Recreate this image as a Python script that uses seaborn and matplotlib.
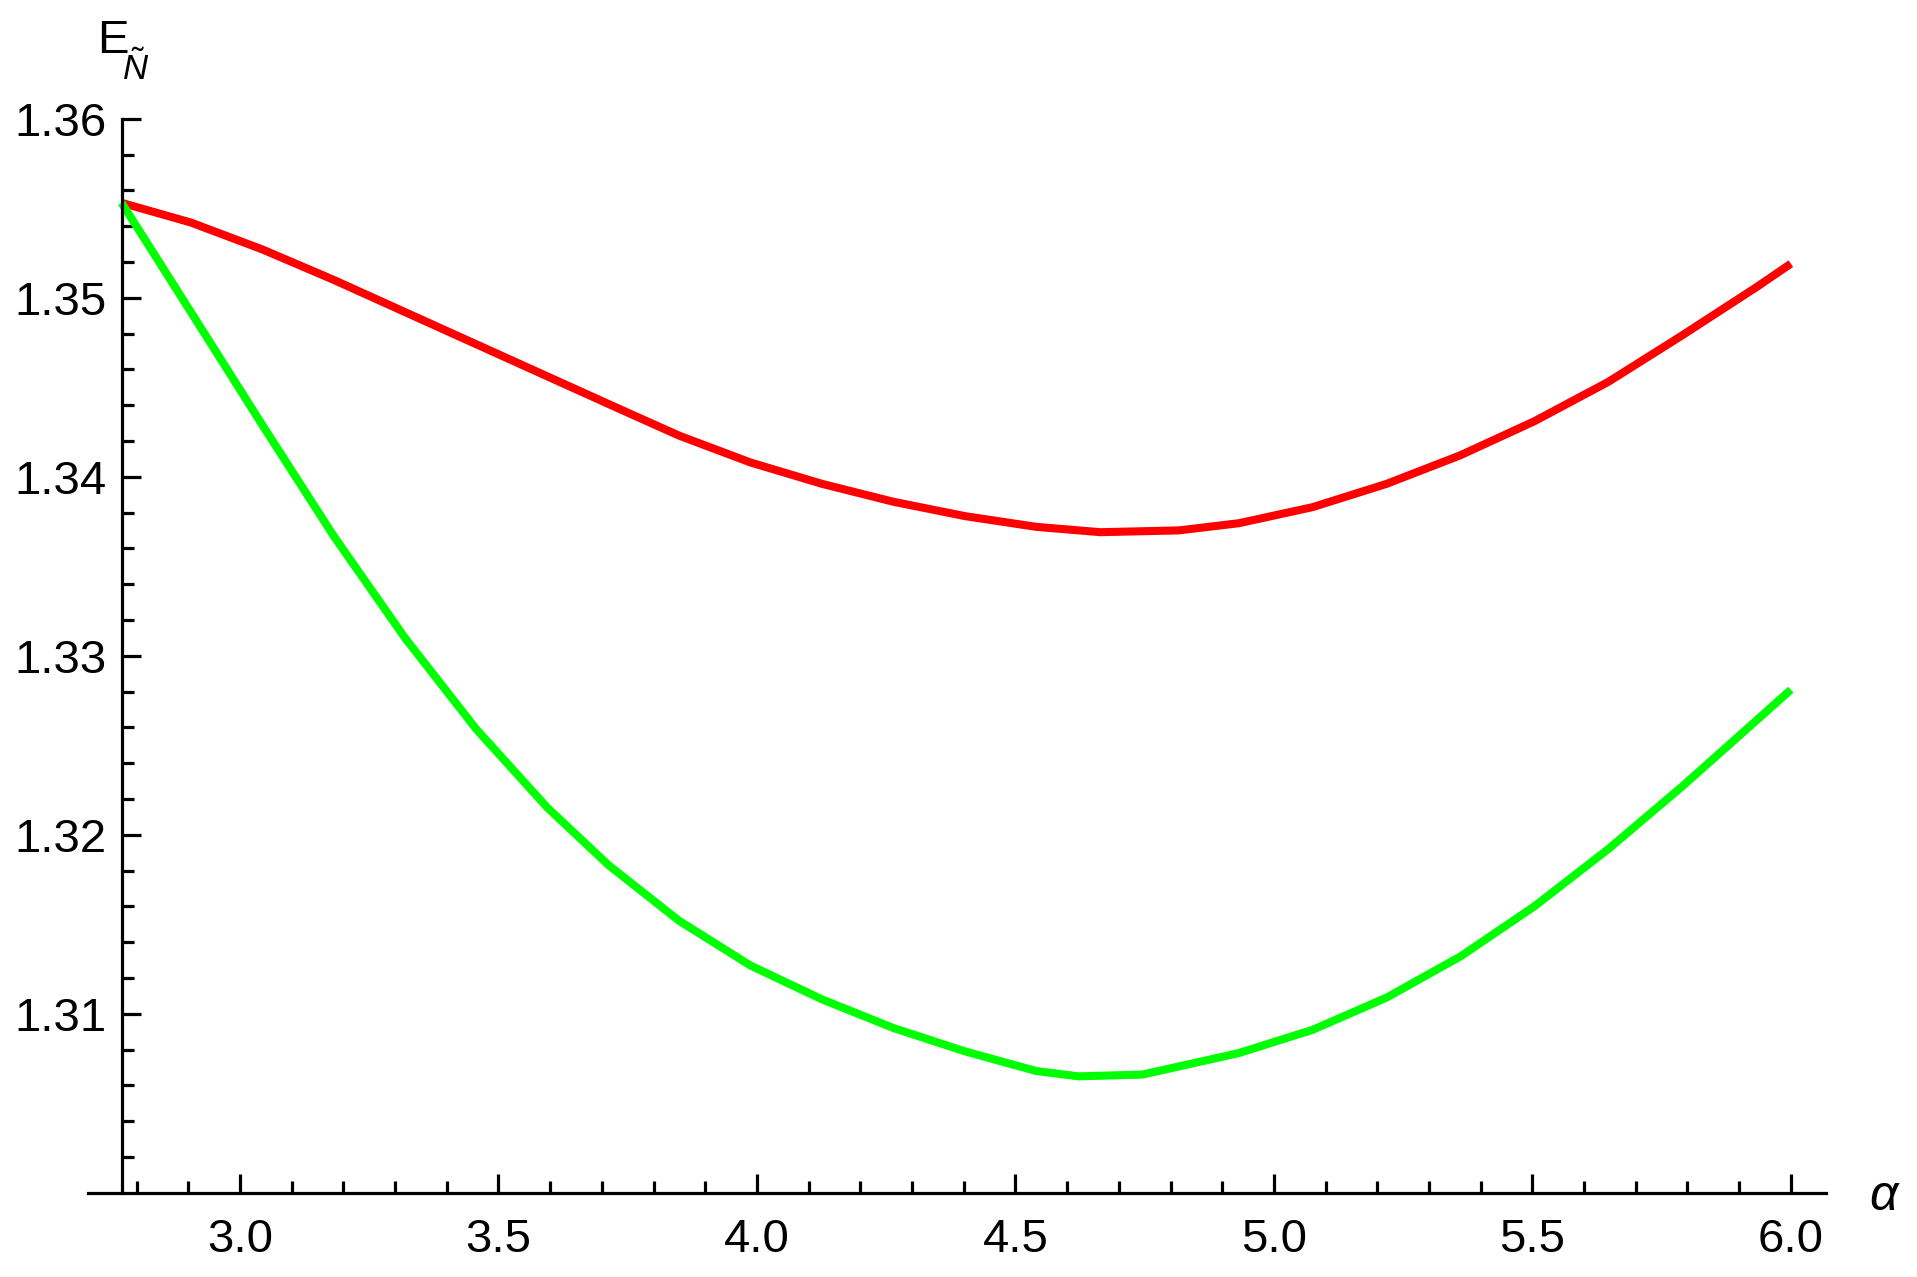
import numpy as np
import matplotlib
matplotlib.use("Agg")
import matplotlib.pyplot as plt
import seaborn as sns

# values
alpha_red = [2.771, 2.905, 3.043, 3.181, 3.319, 3.457, 3.595, 3.733, 3.849, 3.987,
             4.126, 4.264, 4.402, 4.540, 4.664, 4.816, 4.932, 5.075, 5.218, 5.361,
             5.504, 5.647, 5.790, 5.934, 6.000]
e_red = [1.3553, 1.3542, 1.3527, 1.3510, 1.3492, 1.3474, 1.3456, 1.3438, 1.3423, 1.3408,
         1.3396, 1.3386, 1.3378, 1.3372, 1.3369, 1.3370, 1.3374, 1.3383, 1.3396, 1.3412,
         1.3431, 1.3453, 1.3479, 1.3506, 1.3519]

alpha_green = [2.771, 2.905, 3.043, 3.181, 3.319, 3.457, 3.595, 3.713, 3.849, 3.987,
               4.126, 4.264, 4.402, 4.540, 4.622, 4.746, 4.932, 5.075, 5.218, 5.361,
               5.504, 5.647, 5.790, 5.934, 6.000]
e_green = [1.3553, 1.3492, 1.3429, 1.3367, 1.3310, 1.3259, 1.3215, 1.3183, 1.3152, 1.3127,
           1.3108, 1.3092, 1.3079, 1.3068, 1.3065, 1.3066, 1.3078, 1.3091, 1.3109, 1.3132,
           1.3160, 1.3192, 1.3227, 1.3264, 1.3281]

x_major = [3.0, 3.5, 4.0, 4.5, 5.0, 5.5, 6.0]
y_major = [1.31, 1.32, 1.33, 1.34, 1.35, 1.36]

sns.set_style("ticks")
plt.rcParams['font.family'] = ['Liberation Sans', 'DejaVu Sans']
plt.rcParams['mathtext.fontset'] = 'custom'
plt.rcParams['mathtext.rm'] = 'Liberation Sans'
plt.rcParams['mathtext.it'] = 'Liberation Sans:italic'
plt.rcParams['text.color'] = 'black'

fig = plt.figure(figsize=(19.17, 12.77), dpi=100)
ax = fig.add_axes([88 / 1917, 1 - 1192.7 / 1277, (1826 - 88) / 1917, (1192.7 - 118.7) / 1277])

sns.lineplot(x=alpha_red, y=e_red, color='#ff0000', lw=5.8, sort=False, estimator=None,
             ax=ax, clip_on=False, solid_joinstyle='round', solid_capstyle='butt')
sns.lineplot(x=alpha_green, y=e_green, color='#00ff00', lw=5.8, sort=False, estimator=None,
             ax=ax, clip_on=False, solid_joinstyle='round', solid_capstyle='butt')

ax.set_xlim(2.706, 6.068)
ax.set_ylim(1.300, 1.360)

for s in ['top', 'right']:
    ax.spines[s].set_visible(False)
ax.spines['left'].set_position(('data', 2.771))
ax.spines['left'].set_bounds(1.30, 1.36)
for s in ['left', 'bottom']:
    ax.spines[s].set_linewidth(2.3)
    ax.spines[s].set_color('black')

ax.set_xticks(x_major)
ax.set_xticklabels([f"{v:.1f}" for v in x_major])
ax.set_xticks([v for v in np.round(np.arange(2.8, 6.0, 0.1), 2) if round(v * 2, 6) % 1 != 0], minor=True)
ax.set_yticks(y_major)
ax.set_yticklabels([f"{v:.2f}" for v in y_major])
ax.set_yticks([v for v in np.round(np.arange(1.302, 1.36, 0.002), 3) if round(v * 100, 6) % 1 != 0], minor=True)

ax.tick_params(which='both', direction='in', width=2.3, color='black', labelcolor='black', labelsize=34)
ax.tick_params(which='major', length=14)
ax.tick_params(which='minor', length=8.6)
ax.tick_params(axis='x', which='major', pad=18)
ax.tick_params(axis='y', which='major', pad=11)

ax.set_xlabel('')
ax.set_ylabel('')
# axis labels in Mathematica style: E with subscript N-tilde at the top, alpha at the right
fig.text(97 / 1917, 1 - 53 / 1277, 'E', fontsize=34, color='black', ha='left', va='baseline')
fig.text(122 / 1917, 1 - 80 / 1277, r'$\tilde{N}$', fontsize=25, color='black', ha='left', va='baseline')
fig.text(1885 / 1917, 1 - 1197 / 1277, r'$\alpha$', fontsize=36, color='black', ha='center', va='center')

fig.savefig('out.png', dpi=100, facecolor='white')
